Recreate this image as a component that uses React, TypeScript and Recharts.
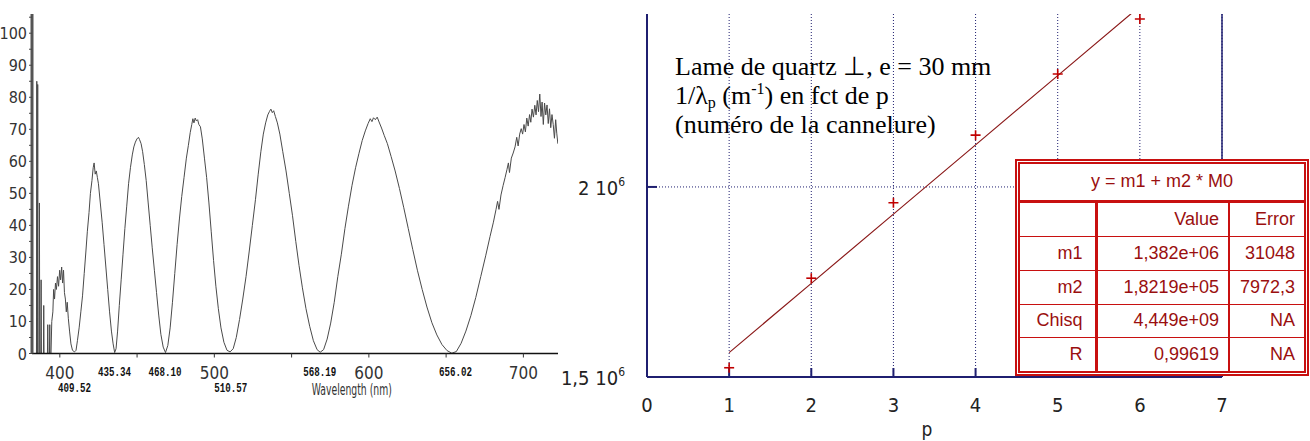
import React from 'react';
import { ComposedChart, Line, XAxis, YAxis, Scatter, CartesianGrid, ReferenceLine, Label } from 'recharts';

// ---------- Left chart: transmitted spectrum ----------
const wavelengthNm = [
  383.0, 384.9, 385.1, 385.3, 385.5, 385.7, 385.9, 386.6, 386.8, 387.0, 387.7, 387.9, 388.1, 389.4, 389.6, 389.8,
  392.0, 392.2, 392.4, 393.3, 393.5, 393.7, 394.3, 394.8, 395.5, 396.0, 396.6, 397.2, 397.8, 398.5, 399.2, 399.9,
  400.5, 401.2, 401.8, 402.4, 403.0, 403.6, 404.2, 404.8, 405.5, 406.3, 407.2, 408.2, 409.5, 410.5, 411.4, 412.5,
  413.6, 414.7, 415.8, 416.9, 417.8, 418.9, 419.8, 420.8, 421.6, 422.2, 422.9, 423.6, 424.3, 425.0, 426.2, 427.4,
  428.6, 429.8, 431.0, 432.2, 433.4, 434.5, 435.5, 436.4, 437.4, 438.5, 439.7, 440.9, 442.1, 443.3, 444.5, 445.7,
  446.9, 447.9, 448.9, 449.9, 450.9, 451.6, 452.6, 453.6, 454.7, 455.9, 457.2, 458.5, 459.8, 461.2, 462.6, 464.0,
  465.4, 466.9, 468.4, 469.9, 471.4, 472.9, 474.4, 475.9, 477.4, 478.9, 480.4, 481.9, 483.2, 484.4, 485.4, 486.1,
  486.8, 487.6, 488.4, 489.2, 490.0, 491.0, 492.2, 493.6, 495.0, 496.5, 498.0, 499.5, 501.0, 502.6, 504.3, 506.2,
  508.2, 510.2, 512.2, 514.2, 516.3, 518.4, 520.5, 522.6, 524.6, 526.6, 528.4, 530.1, 531.7, 533.2, 534.6, 535.7,
  536.6, 537.5, 538.4, 539.5, 540.8, 542.4, 544.3, 546.4, 548.5, 550.6, 552.7, 554.8, 557.0, 559.3, 561.7, 564.1,
  566.5, 568.5, 570.7, 573.0, 575.3, 577.6, 579.9, 582.2, 584.5, 586.8, 589.1, 591.4, 593.6, 595.7, 597.7, 599.5,
  600.9, 602.0, 603.0, 604.2, 605.4, 606.6, 608.2, 610.0, 612.0, 614.4, 617.0, 619.8, 622.6, 625.5, 628.4, 631.4,
  634.5, 637.6, 640.8, 644.0, 647.3, 650.6, 653.7, 656.6, 659.7, 662.8, 666.0, 669.2, 672.4, 675.6, 678.4, 680.6,
  682.3, 683.3, 684.2, 685.5, 686.9, 688.2, 689.4, 690.3, 691.0, 692.2, 693.4, 694.6, 695.7, 696.6, 697.6, 698.6,
  699.5, 700.4, 701.3, 702.2, 703.1, 704.0, 704.8, 705.6, 706.5, 707.4, 708.2, 709.0, 709.8, 710.6, 711.4, 712.1,
  712.9, 713.7, 714.5, 715.3, 716.1, 716.9, 717.7, 718.5, 719.3, 720.1, 720.9, 721.6, 722.3,
];
const intensity = [
  0, 0, 85, 0, 0, 84, 0, 0, 47, 0, 0, 23, 0, 0, 15, 0,
  0, 9, 0, 0, 9, 0, 0, 10, 13, 20, 17, 22, 20, 24, 21, 26,
  23, 27, 22, 26, 19, 17, 13, 16, 11, 7, 3, 1, 0.5, 1, 4, 8,
  13, 18, 25, 32, 38, 44, 50, 54, 58, 59.5, 56, 57, 55, 53, 47, 41,
  34, 27, 20, 13, 7, 3, 0.3, 1.5, 7, 15, 23, 31, 39, 46, 53, 58,
  62, 64.5, 66, 67, 67.5, 66.8, 65.5, 63, 59, 54, 47, 40, 33, 26, 19, 12,
  6, 2, 0.3, 2.5, 8, 16, 25, 34, 42, 49, 55, 61, 65, 69, 71.5, 73.3,
  72, 73.5, 72.6, 73, 71.5, 70.8, 67, 61, 55, 47, 38, 29, 21, 14, 8, 3.5,
  1, 0.5, 1.5, 5, 10.6, 17, 24, 32, 40, 48, 56, 63, 68.5, 72, 74.5, 75.6,
  76.3, 75.2, 75.8, 74, 72, 68.5, 63, 57, 50, 43, 35, 27.5, 20.5, 14, 8.5, 4,
  1.2, 0.4, 1.2, 4.5, 9.5, 16, 24, 31, 39, 46, 52.5, 58, 62.5, 66.5, 69.5, 71.8,
  73.3, 72.4, 73.6, 73, 73.8, 72.3, 70.4, 68, 65.5, 61.5, 57, 51.5, 45.5, 39, 32.5, 26,
  20, 14.5, 9.6, 5.8, 2.8, 0.9, 0.1, 0.6, 3.2, 7, 11.8, 17.5, 24, 30.5, 36.5, 41,
  45, 47.5, 45, 49.5, 52.5, 55, 57.5, 59.5, 56.5, 61, 62.6, 64.5, 67.5, 64.8, 68.5, 70.2,
  68.5, 71.5, 69.2, 73.5, 71, 74.6, 72.2, 76.3, 73.8, 77.5, 74.5, 79, 75.5, 81, 74, 78.5,
  71.5, 78.2, 74.5, 77.6, 71.8, 76.4, 70.5, 74.6, 71.5, 67.2, 73, 68.8, 65.5,
];
const spectrumTicks = [400, 450, 500, 550, 600, 650, 700];
const intensityTicks = [0, 5, 10, 15, 20, 25, 30, 35, 40, 45, 50, 55, 60, 65, 70, 75, 80, 85, 90, 95, 100, 105];
const minimaNm = [409.52, 435.34, 468.1, 510.57, 568.19, 656.02];
const minimaLabels = ['409.52', '435.34', '468.10', '510.57', '568.19', '656.02'];

// ---------- Right chart: 1/lambda_p vs p ----------
const pIndex = [1, 2, 3, 4, 5, 6];
const inverseWavelength = [1524344, 1759975, 1958595, 2136296, 2297054, 2441883];
const fitLine = [1564190, 1746380, 1928570, 2110760, 2292950, 2475140];
const pTicks = [0, 1, 2, 3, 4, 5, 6, 7];
const invTicks = [1500000, 2000000];
const invTickMantissa = ['1,5 10', '2 10'];
const invTickExponent = ['6', '6'];

const fitTitle = 'y = m1 + m2 * M0';
const fitHeader = ['', 'Value', 'Error'];
const fitRowNames = ['m1', 'm2', 'Chisq', 'R'];
const fitValues = ['1,382e+06', '1,8219e+05', '4,449e+09', '0,99619'];
const fitErrors = ['31048', '7972,3', 'NA', 'NA'];

const NARROW = "'Liberation Sans Narrow', 'Arial Narrow', 'DejaVu Sans Condensed', sans-serif";
const NAVY = '#1f1f70';
const TABLE_RED = '#c81010';
const TEXT_RED = '#9a0f0f';
const LOWER_ROW = new Set([0, 3]);

const spectrum = wavelengthNm.map((nm, i) => ({ nm, v: intensity[i] }));
const fitData = pIndex.map((p, i) => ({ p, inv: inverseWavelength[i], fit: fitLine[i] }));

const LeftXTick = (props: any) => {
  const { x, y, payload } = props;
  if (payload.value % 100 !== 0) return <g />;
  return (
    <text x={x} y={y + 19} textAnchor="middle" fontFamily={NARROW} fontSize={17} fill="#333">
      {payload.value}
    </text>
  );
};

const makeMinimaLabel = (idx: number) => (props: any) => {
  const vb = props.viewBox || {};
  const bottom = (vb.y || 0) + (vb.height || 0);
  return (
    <text
      x={vb.x}
      y={bottom + (LOWER_ROW.has(idx) ? 38 : 22)}
      textAnchor="middle"
      fontFamily="'Liberation Mono', 'DejaVu Sans Mono', monospace"
      fontWeight="bold"
      fontSize={13}
      textLength={33}
      lengthAdjust="spacingAndGlyphs"
      fill="#111"
    >
      {minimaLabels[idx]}
    </text>
  );
};

const LeftYTick = (props: any) => {
  const { x, y, payload } = props;
  if (payload.value % 10 !== 0 || payload.value > 100) return <g />;
  return (
    <text x={x} y={y + 6} textAnchor="end" fontFamily={NARROW} fontSize={16} fill="#333">
      {payload.value}
    </text>
  );
};

const RightXTick = (props: any) => {
  const { x, y, payload } = props;
  return (
    <text x={x} y={y + 35} textAnchor="middle" fontFamily={NARROW} fontSize={20} fill="#222">
      {payload.value}
    </text>
  );
};

const RightYTick = (props: any) => {
  const { x, y, index } = props;
  return (
    <text x={x - 22} y={y + 8} textAnchor="end" fontFamily={NARROW} fontSize={20} fill="#222">
      {invTickMantissa[index]}
      <tspan dy={-9} fontSize={12}>{invTickExponent[index]}</tspan>
    </text>
  );
};

const Plus = (props: any) => {
  const { cx, cy } = props;
  if (cx == null || cy == null) return <g />;
  return (
    <g stroke="#c00000" strokeWidth={1.6}>
      <line x1={cx - 5} y1={cy} x2={cx + 5} y2={cy} />
      <line x1={cx} y1={cy - 5} x2={cx} y2={cy + 5} />
    </g>
  );
};

const cellBase: React.CSSProperties = {
  textAlign: 'right',
  padding: '0 9px 0 0',
  fontFamily: "'Liberation Sans', Arial, sans-serif",
  fontSize: 18,
  color: TEXT_RED,
  whiteSpace: 'nowrap',
  overflow: 'hidden',
};

export default function App() {
  return (
    <div style={{ position: 'absolute', left: 0, top: 0, width: 1310, height: 441, background: '#fff', overflow: 'hidden' }}>
      {/* Left: spectrum */}
      <div style={{ position: 'absolute', left: 0, top: 0 }}>
        <ComposedChart width={570} height={441} data={spectrum} margin={{ top: 14, right: 12, bottom: 86.5, left: 31 }}>
          <XAxis
            type="number"
            dataKey="nm"
            domain={[382, 722.4]}
            allowDataOverflow
            ticks={spectrumTicks}
            interval={0}
            height={1}
            axisLine={{ stroke: '#111', strokeWidth: 1.5 }}
            tickLine={{ stroke: '#333', strokeWidth: 1 }}
            tickSize={4}
            tickMargin={2}
            tick={<LeftXTick />}
          >
            <Label
              content={(p: any) => {
                const vb = p.viewBox;
                return (
                  <text
                    x={vb.x + vb.width * 0.608}
                    y={vb.y + 41}
                    textAnchor="middle"
                    fontFamily={NARROW}
                    fontSize={15}
                    textLength={80}
                    lengthAdjust="spacingAndGlyphs"
                    fill="#333"
                  >
                    Wavelength (nm)
                  </text>
                );
              }}
            />
          </XAxis>
          <YAxis
            type="number"
            domain={[0, 106]}
            allowDataOverflow
            ticks={intensityTicks}
            interval={0}
            width={1}
            axisLine={{ stroke: '#555', strokeWidth: 3 }}
            tickLine={{ stroke: '#444', strokeWidth: 1 }}
            tickSize={3}
            tickMargin={2}
            tick={<LeftYTick />}
          />
          {minimaNm.map((nm, i) => (
            <ReferenceLine key={nm} x={nm} stroke="none" label={makeMinimaLabel(i)} />
          ))}
          <Line
            type="linear"
            dataKey="v"
            stroke="#4a4a4a"
            strokeWidth={1}
            dot={false}
            isAnimationActive={false}
          />
        </ComposedChart>
      </div>

      {/* Right: 1/lambda_p vs p */}
      <div style={{ position: 'absolute', left: 560, top: 0 }}>
        <ComposedChart width={750} height={441} data={fitData} margin={{ top: 14, right: 88, bottom: 63, left: 86 }}>
          <CartesianGrid
            stroke={NAVY}
            strokeDasharray="1 2"
            strokeWidth={1}
            horizontalValues={invTicks}
            verticalValues={pTicks}
          />
          <XAxis
            type="number"
            dataKey="p"
            domain={[0, 7]}
            ticks={pTicks}
            interval={0}
            height={1}
            axisLine={{ stroke: NAVY, strokeWidth: 2 }}
            tickLine={{ stroke: NAVY, strokeWidth: 2 }}
            tickSize={-9}
            tickMargin={9}
            tick={<RightXTick />}
          >
            <Label
              content={(p: any) => {
                const vb = p.viewBox;
                return (
                  <text x={vb.x + vb.width * 0.487} y={vb.y + 59} textAnchor="middle" fontFamily={NARROW} fontSize={19} fill="#222">
                    p
                  </text>
                );
              }}
            />
          </XAxis>
          <YAxis
            type="number"
            domain={[1500000, 2455000]}
            allowDataOverflow
            ticks={invTicks}
            interval={0}
            width={1}
            axisLine={{ stroke: NAVY, strokeWidth: 2 }}
            tickLine={{ stroke: NAVY, strokeWidth: 2 }}
            tickSize={-10}
            tickMargin={10}
            tick={<RightYTick />}
          />
          <ReferenceLine x={7} stroke={NAVY} strokeWidth={1.5} />
          <Line
            type="linear"
            dataKey="fit"
            stroke="#8b1a1a"
            strokeWidth={1.2}
            dot={false}
            isAnimationActive={false}
          />
          <Scatter dataKey="inv" shape={<Plus />} isAnimationActive={false} />
        </ComposedChart>
      </div>

      {/* Annotation */}
      <div
        style={{
          position: 'absolute',
          left: 675,
          top: 52,
          fontFamily: "'Liberation Serif', 'Times New Roman', serif",
          fontSize: 26,
          lineHeight: '29px',
          color: '#000',
          whiteSpace: 'nowrap',
        }}
      >
        <div>Lame de quartz ⊥, e = 30 mm</div>
        <div>
          1/λ<sub style={{ fontSize: 16, verticalAlign: '-4px', lineHeight: 0 }}>p</sub> (m
          <sup style={{ fontSize: 16, verticalAlign: '10px', lineHeight: 0 }}>-1</sup>) en fct de p
        </div>
        <div>(numéro de la cannelure)</div>
      </div>

      {/* Fit table */}
      <div
        style={{
          position: 'absolute',
          left: 1015,
          top: 159,
          width: 294,
          height: 217,
          boxSizing: 'border-box',
          border: `5px double ${TABLE_RED}`,
          background: '#fff',
        }}
      >
        <table
          style={{
            width: '100%',
            height: '100%',
            borderCollapse: 'collapse',
            tableLayout: 'fixed',
          }}
        >
          <colgroup>
            <col style={{ width: 76 }} />
            <col style={{ width: 133 }} />
            <col />
          </colgroup>
          <tbody>
            <tr style={{ height: 37 }}>
              <td colSpan={3} style={{ ...cellBase, textAlign: 'center', padding: 0, borderBottom: `3px solid ${TABLE_RED}` }}>
                {fitTitle}
              </td>
            </tr>
            <tr>
              {fitHeader.map((h, j) => (
                <td
                  key={j}
                  style={{
                    ...cellBase,
                    borderLeft: j === 0 ? 'none' : `${j === 1 ? 3 : 2}px solid ${TABLE_RED}`,
                    borderBottom: `1.5px solid ${TABLE_RED}`,
                  }}
                >
                  {h}
                </td>
              ))}
            </tr>
            {fitRowNames.map((name, i) => (
              <tr key={name}>
                {[name, fitValues[i], fitErrors[i]].map((c, j) => (
                  <td
                    key={j}
                    style={{
                      ...cellBase,
                      paddingRight: j === 0 ? 12 : 9,
                      borderLeft: j === 0 ? 'none' : `${j === 1 ? 3 : 2}px solid ${TABLE_RED}`,
                      borderBottom: i === fitRowNames.length - 1 ? 'none' : `1.5px solid ${TABLE_RED}`,
                    }}
                  >
                    {c}
                  </td>
                ))}
              </tr>
            ))}
          </tbody>
        </table>
      </div>
    </div>
  );
}
